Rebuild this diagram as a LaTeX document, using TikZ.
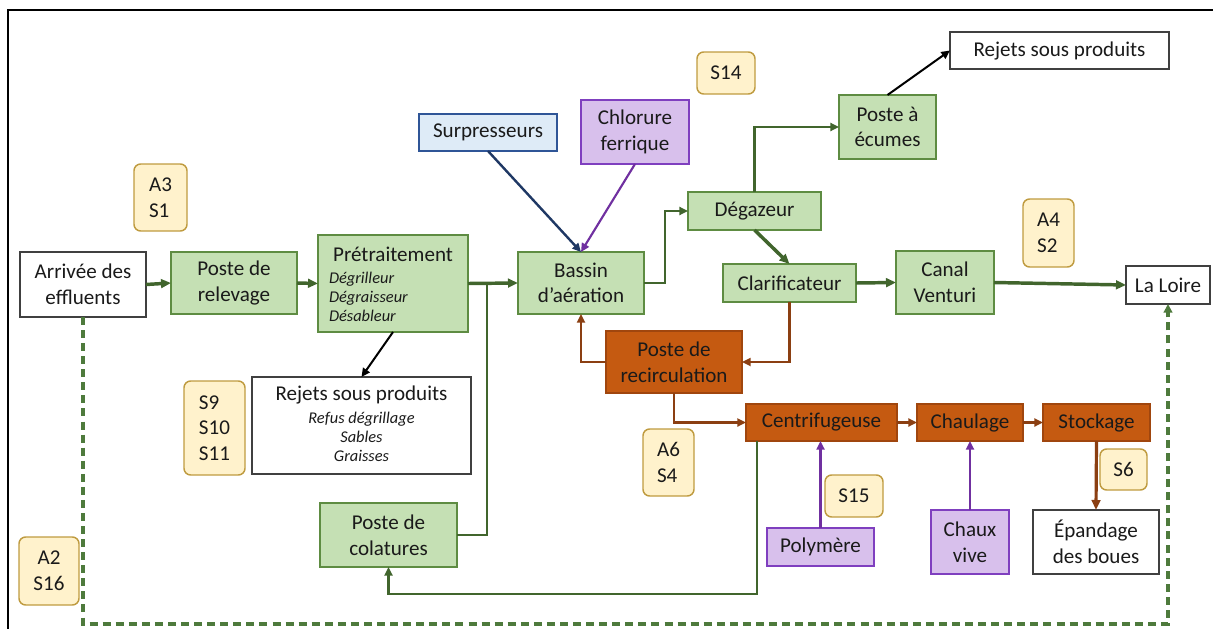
\documentclass[tikz,border=0pt]{standalone}
\usepackage{fontspec}
\setmainfont{Carlito}
\usetikzlibrary{arrows.meta,calc}

\definecolor{gfill}{HTML}{C5E0B4}
\definecolor{gdraw}{HTML}{5E8C42}
\definecolor{gline}{HTML}{41652D}
\definecolor{dline}{HTML}{4E7A3C}
\definecolor{bfill}{HTML}{C55A11}
\definecolor{bdraw}{HTML}{A0460E}
\definecolor{bline}{HTML}{8B3F12}
\definecolor{pfill}{HTML}{D8C0EC}
\definecolor{pdraw}{HTML}{7F3FBF}
\definecolor{pline}{HTML}{7030A0}
\definecolor{blfill}{HTML}{DEEBF7}
\definecolor{bldraw}{HTML}{2F5597}
\definecolor{blline}{HTML}{1F3864}
\definecolor{yfill}{HTML}{FFF2CC}
\definecolor{ydraw}{HTML}{BF9B40}
\definecolor{wdraw}{HTML}{404040}
\definecolor{txt}{HTML}{1A1A1A}

% box from its corner coordinates (in pixels): name, style, x1, y1, x2, y2
\newcommand{\boxat}[6]{\node[#2, minimum width={(#5-#3)*0.75pt}, minimum height={(#6-#4)*0.75pt}] (#1) at ({(#3+#5)/2},{(#4+#6)/2})}

\begin{document}
\begin{tikzpicture}[x=0.75pt,y=-0.75pt,
  font=\fontsize{15.8}{19.2}\selectfont,
  base/.style={draw, line width=1.1pt, inner sep=0pt, outer sep=0pt, align=center, text=txt},
  greenbox/.style={base, fill=gfill, draw=gdraw},
  brownbox/.style={base, fill=bfill, draw=bdraw},
  purplebox/.style={base, fill=pfill, draw=pdraw},
  bluebox/.style={base, fill=blfill, draw=bldraw},
  whitebox/.style={base, fill=white, draw=wdraw},
  tagbox/.style={base, fill=yfill, draw=ydraw, rounded corners=5pt, align=left},
  plain/.style={inner sep=0pt, outer sep=0pt, text=txt},
  smallit/.style={plain, font=\itshape\fontsize{12.3}{14.4}\selectfont},
  flowthick/.style={draw=gline, line width=2.6pt, -{Triangle[length=7.5pt,width=6.5pt]}},
  flowthin/.style={draw=gline, line width=1.7pt, -{Triangle[length=6.5pt,width=6pt]}},
  sludge/.style={draw=bline, line width=1.6pt, -{Triangle[length=6.5pt,width=6pt]}},
  sludgethick/.style={draw=bline, line width=2.4pt, -{Triangle[length=7.5pt,width=6.5pt]}},
  waste/.style={draw=black, line width=1.5pt, -{Triangle[length=6.5pt,width=6pt]}},
  bypass/.style={draw=dline, line width=2.3pt, dash pattern=on 6pt off 3.8pt, -{Triangle[length=6.5pt,width=6.5pt]}}
]
\useasboundingbox (0,0) rectangle (1213,628);
\clip (0,0) rectangle (1213,628);

% outer frame
\draw[line width=1.5pt, black] (8,660) -- (8,10) -- (1240,10);

% water line
\boxat{arr}{whitebox}{20}{252}{146}{317} {Arrivée des\\effluents};
\boxat{relev}{greenbox}{171}{252}{297}{314} {Poste de\\relevage};
\boxat{pret}{greenbox}{318}{235}{468}{332} {};
\node[plain] (pretT) at (393,254) {Prétraitement};
\node[smallit, anchor=west, align=left] (pretL) at (329,297) {Dégrilleur\\Dégraisseur\\Désableur};
\boxat{bassin}{greenbox}{518}{252}{644}{314} {Bassin\\d’aération};
\boxat{surp}{bluebox}{419}{114}{557}{151} {Surpresseurs};
\boxat{chlor}{purplebox}{581}{100}{689}{164} {Chlorure\\ferrique};
\boxat{degaz}{greenbox}{688}{192}{821}{230} {Dégazeur};
\boxat{clarif}{greenbox}{723}{264}{856}{302} {Clarificateur};
\boxat{canal}{greenbox}{896}{251}{994}{314} {Canal\\Venturi};
\boxat{loire}{whitebox}{1126}{266}{1210}{304} {La Loire};
\boxat{ecumes}{greenbox}{839}{95}{936}{159} {Poste à\\écumes};
\boxat{rejA}{whitebox}{950}{32}{1169}{69} {Rejets sous produits};
\boxat{rejB}{whitebox}{252}{377}{471}{474} {};
\node[plain] (rejBT) at (361.5,395) {Rejets sous produits};
\node[smallit, align=center] (rejBL) at (361.5,437) {Refus dégrillage\\Sables\\Graisses};
\boxat{colat}{greenbox}{320}{503}{457}{567} {Poste de\\colatures};

% sludge line
\boxat{recirc}{brownbox}{606}{331}{742}{393} {Poste de\\recirculation};
\boxat{centrif}{brownbox}{746}{404}{897}{441} {Centrifugeuse};
\boxat{chaulage}{brownbox}{917}{404}{1023}{441} {Chaulage};
\boxat{stock}{brownbox}{1043}{404}{1150}{441} {Stockage};
\boxat{poly}{purplebox}{767}{528}{874}{566} {Polymère};
\boxat{chaux}{purplebox}{931}{510}{1009}{574} {Chaux\\vive};
\boxat{epand}{whitebox}{1033}{510}{1159}{574} {Épandage\\des boues};

% reference tags
\boxat{tA3}{tagbox}{134}{164}{187}{231} {A3\\S1};
\boxat{tS14}{tagbox}{697}{52}{755}{94} {S14};
\boxat{tA4}{tagbox}{1023}{199}{1074}{267} {A4\\S2};
\boxat{tS9}{tagbox}{184}{381}{245}{475} {S9\\S10\\S11};
\boxat{tA6}{tagbox}{643}{429}{694}{496} {A6\\S4};
\boxat{tS15}{tagbox}{825}{475}{883}{517} {S15};
\boxat{tS6}{tagbox}{1100}{449}{1147}{490} {S6};
\boxat{tA2}{tagbox, align=center}{19}{537}{79}{605} {A2\\S16};

% water flow
\draw[flowthick] (arr.east) -- (relev.west);
\draw[flowthick] (relev.east) -- (pret.east -| pret.west);
\draw[flowthick] (pret.east) -- (bassin.west);
\draw[flowthin] (bassin.east) -- ++(21,0) |- (degaz.west);
\draw[flowthick] (degaz.south) -- (clarif.north);
\draw[flowthick] (clarif.east) -- (canal.west);
\draw[flowthick] (canal.east) -- (loire.west);
\draw[flowthin] (degaz.north) |- (ecumes.west);
\draw[waste] (ecumes.north) -- (rejA.west);
\draw[waste] (pret.south) -- (rejB.north);
\draw[blline, line width=1.8pt, -{Triangle[length=6.5pt,width=6pt]}] (surp.south) -- (bassin.north);
\draw[pline, line width=1.6pt, -{Triangle[length=6.5pt,width=6pt]}] (chlor.south) -- (bassin.north);

% return of the draining water
\coordinate (jn) at (487,283);
\draw[gline, line width=1.7pt] (colat.east) -| (jn);
\coordinate (cb) at (757,594);
\draw[flowthin] (centrif.south west -| cb) -- (cb) -| (colat.south);

% sludge flow
\draw[sludge] (clarif.south) |- (recirc.east);
\draw[sludge] (recirc.west) -| (bassin.south);
\draw[sludge] (recirc.south) |- (centrif.west);
\draw[sludge] (centrif.east) -- (chaulage.west);
\draw[sludge] (chaulage.east) -- (stock.west);
\draw[sludgethick] (stock.south) -- (epand.north);
\draw[pline, line width=1.6pt, -{Triangle[length=6.5pt,width=6pt]}] (poly.north) -- (centrif.south -| poly.north);
\draw[pline, line width=1.6pt, -{Triangle[length=6.5pt,width=6pt]}] (chaux.north) -- (chaulage.south);

% bypass to the river
\coordinate (dl) at (83,624);
\coordinate (dr) at (1168,624);
\draw[bypass] (arr.south) -- (dl) -- (dr) -- (loire.south);
\end{tikzpicture}
\end{document}
